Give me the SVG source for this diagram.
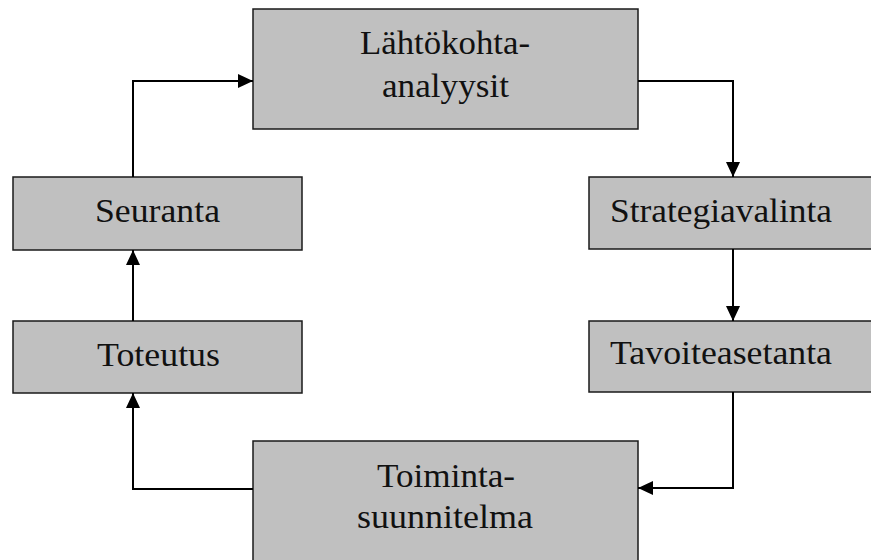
<svg xmlns="http://www.w3.org/2000/svg" width="871" height="560" viewBox="0 0 871 560">
<style>
.box{fill:#c0c0c0;stroke:#1a1a1a;stroke-width:1.5}
.t{font-family:"Liberation Serif","DejaVu Serif",serif;font-size:34px;fill:#111}
.c{fill:none;stroke:#000;stroke-width:2;marker-end:url(#ah)}
</style>
<defs>
<marker id="ah" markerUnits="userSpaceOnUse" markerWidth="16" markerHeight="14" refX="15" refY="7" orient="auto">
<path d="M0,0 L15,7 L0,14 Z" fill="#000"/>
</marker>
</defs>
<rect width="871" height="560" fill="#fff"/>
<g id="lahtokohta">
<rect class="box" x="253" y="9" width="385" height="120"/>
<text class="t" x="360" y="54" textLength="170" lengthAdjust="spacingAndGlyphs">Lähtökohta-</text>
<text class="t" x="382" y="97" textLength="127" lengthAdjust="spacingAndGlyphs">analyysit</text>
</g>
<g id="seuranta">
<rect class="box" x="13" y="177" width="289" height="73"/>
<text class="t" x="95" y="222" textLength="125" lengthAdjust="spacingAndGlyphs">Seuranta</text>
</g>
<g id="toteutus">
<rect class="box" x="13" y="321" width="289" height="72"/>
<text class="t" x="97" y="366" textLength="123" lengthAdjust="spacingAndGlyphs">Toteutus</text>
</g>
<g id="strategiavalinta">
<rect class="box" x="589" y="177" width="300" height="72"/>
<text class="t" x="610" y="222" textLength="222" lengthAdjust="spacingAndGlyphs">Strategiavalinta</text>
</g>
<g id="tavoiteasetanta">
<rect class="box" x="589" y="321" width="300" height="71"/>
<text class="t" x="610" y="364" textLength="222" lengthAdjust="spacingAndGlyphs">Tavoiteasetanta</text>
</g>
<g id="toimintasuunnitelma">
<rect class="box" x="253" y="441" width="385" height="140"/>
<text class="t" x="377" y="487" textLength="138" lengthAdjust="spacingAndGlyphs">Toiminta-</text>
<text class="t" x="357" y="528" textLength="176" lengthAdjust="spacingAndGlyphs">suunnitelma</text>
</g>
<g id="connectors">
<path class="c" d="M133,177 V81 H253"/>
<path class="c" d="M638,81 H733 V177"/>
<path class="c" d="M733,249 V321"/>
<path class="c" d="M733,392 V488 H638"/>
<path class="c" d="M253,489 H133 V393"/>
<path class="c" d="M133,321 V250"/>
</g>
</svg>
